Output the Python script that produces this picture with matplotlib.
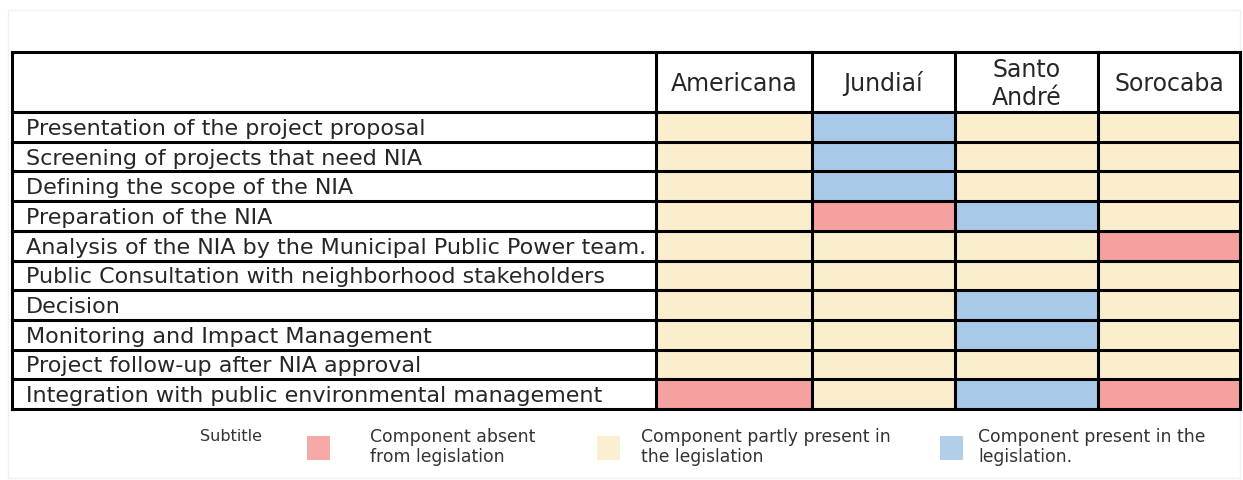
import matplotlib
matplotlib.use("Agg")
import matplotlib.pyplot as plt
from matplotlib.patches import Rectangle

# -------------------------
# Data
# -------------------------
cities = ["Americana", "Jundiaí", "Santo\nAndré", "Sorocaba"]
steps = [
    "Presentation of the project proposal",
    "Screening of projects that need NIA",
    "Defining the scope of the NIA",
    "Preparation of the NIA",
    "Analysis of the NIA by the Municipal Public Power team.",
    "Public Consultation with neighborhood stakeholders",
    "Decision",
    "Monitoring and Impact Management",
    "Project follow-up after NIA approval",
    "Integration with public environmental management",
]
# 0 = absent, 1 = partly present, 2 = present
status = [
    [1, 2, 1, 1],
    [1, 2, 1, 1],
    [1, 2, 1, 1],
    [1, 0, 2, 1],
    [1, 1, 1, 0],
    [1, 1, 1, 1],
    [1, 1, 2, 1],
    [1, 1, 2, 1],
    [1, 1, 1, 1],
    [0, 1, 2, 0],
]
legend_labels = [
    "Component absent\nfrom legislation",
    "Component partly present in\nthe legislation",
    "Component present in the\nlegislation.",
]

# -------------------------
# Style / layout (pixels)
# -------------------------
colors = {0: "#f5a19f", 1: "#fbeecc", 2: "#a9c9e8"}
font = ["DejaVu Sans"]
col_edges = [12, 656, 812, 955, 1098, 1240]
header_top, header_bottom, table_bottom = 53, 113, 410
row_h = (table_bottom - header_bottom) / len(steps)

fig = plt.figure(figsize=(12.43, 4.81), dpi=100)
ax = fig.add_axes([0, 0, 1, 1])
ax.set_xlim(0, 1243)
ax.set_ylim(481, 0)
ax.axis("off")

# faint frame of the original image
ax.add_patch(Rectangle((8, 11), 1232, 468, fill=False, ec="#f0f0f0", lw=1))

# cells
for i, row in enumerate(status):
    y0 = header_bottom + i * row_h
    for j, s in enumerate(row):
        x0 = col_edges[j + 1]
        ax.add_patch(Rectangle((x0, y0), col_edges[j + 2] - x0, row_h,
                               fc=colors[s], ec="none"))
    ax.text(26, y0 + row_h / 2 + 1, steps[i], fontsize=16, family=font,
            va="center", ha="left", color="#262626")

# header labels
for j, c in enumerate(cities):
    xc = (col_edges[j + 1] + col_edges[j + 2]) / 2
    ax.text(xc, (header_top + header_bottom) / 2 + 1, c, fontsize=17,
            family=font, ha="center", va="center", color="#262626",
            linespacing=1.18)

# grid lines
lw = 2.2
for x in col_edges:
    ax.plot([x, x], [header_top, table_bottom], color="black", lw=lw,
            solid_capstyle="projecting")
hlines = [header_top, header_bottom] + [header_bottom + (i + 1) * row_h
                                        for i in range(len(steps))]
for y in hlines:
    ax.plot([col_edges[0], col_edges[-1]], [y, y], color="black", lw=lw,
            solid_capstyle="projecting")

# legend
ax.text(200, 437, "Subtitle", fontsize=11.5, family=font, va="center",
        color="#333333")
sq_x = [307, 597, 940]
txt_x = [370, 641, 978]
for k in range(3):
    ax.add_patch(Rectangle((sq_x[k], 437), 23, 24, fc=colors[k], ec="none",
                           alpha=0.9))
    ax.text(txt_x[k], 447, legend_labels[k], fontsize=12.4, family=font,
            va="center", ha="left", color="#333333", linespacing=1.15)

fig.savefig("out.png", dpi=100)
